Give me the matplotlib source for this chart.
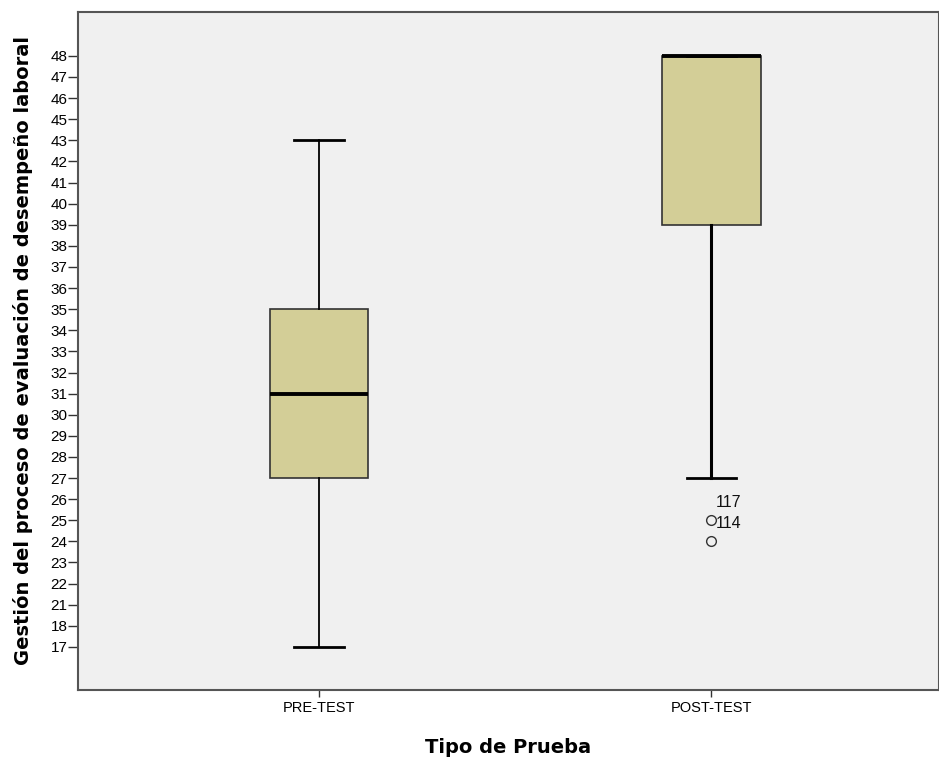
import matplotlib
matplotlib.use("Agg")
import matplotlib.pyplot as plt

plt.rcParams['font.family'] = ['Liberation Sans', 'DejaVu Sans']

# valores observados que aparecen en el eje (escala ordinal, como en SPSS)
tick_values = [17, 18, 21, 22, 23, 24, 25, 26, 27, 28, 29, 30, 31, 32, 33, 34,
               35, 36, 37, 38, 39, 40, 41, 42, 43, 45, 46, 47, 48]

groups = ["PRE-TEST", "POST-TEST"]
whis_low = [17, 27]
q1 = [27, 39]
median = [31, 48]
q3 = [35, 48]
whis_high = [43, 48]
outliers = [[], [25, 24]]
outlier_ids = [[], ["117", "114"]]


def pos(v):
    return tick_values.index(v)


stats = []
for i, g in enumerate(groups):
    stats.append({
        "label": g,
        "whislo": pos(whis_low[i]),
        "q1": pos(q1[i]),
        "med": pos(median[i]),
        "q3": pos(q3[i]),
        "whishi": pos(whis_high[i]),
        "fliers": [pos(v) for v in outliers[i]],
    })

fig = plt.figure(figsize=(9.39, 7.62), dpi=100)
ax = fig.add_axes([0.0831, 0.0945, 0.917, 0.8898])
ax.set_facecolor("#f0f0f0")

bp = ax.bxp(stats, positions=[1, 2], widths=0.252, patch_artist=True,
            boxprops=dict(facecolor="#d3ce97", edgecolor="#333333", linewidth=1.2),
            medianprops=dict(color="black", linewidth=2.8),
            whiskerprops=dict(color="black", linewidth=1.3),
            capprops=dict(color="black", linewidth=2),
            flierprops=dict(marker="o", markersize=7, markerfacecolor="none",
                            markeredgecolor="#333333", markeredgewidth=1),
            capwidths=0.125)
# el bigote del POST-TEST se ve más grueso en el original
bp["whiskers"][2].set_linewidth(2.2)
bp["whiskers"][3].set_linewidth(2.2)

for i, ids in enumerate(outlier_ids):
    for v, lab in zip(outliers[i], ids):
        ax.annotate(lab, (i + 1, pos(v)), xytext=(3, 13), textcoords="offset points",
                    fontsize=11.5, va="center", ha="left", color="#111111")

ax.set_xlim(0.386, 2.58)
ax.set_ylim(-2.04, 30.08)
ax.set_yticks(range(len(tick_values)))
ax.set_yticklabels([str(v) for v in tick_values])
ax.set_xticks([1, 2])
ax.set_xticklabels(groups)
ax.tick_params(axis="y", direction="out", length=7, width=1, colors="#333333",
               labelsize=11, labelcolor="black", pad=0.5)
ax.tick_params(axis="x", direction="out", length=5, width=1, colors="#333333",
               labelsize=10.5, labelcolor="black", pad=3)

for s in ax.spines.values():
    s.set_color("#555555")
    s.set_linewidth(1.5)

ax.set_ylabel("Gestión del proceso de evaluación de desempeño laboral",
              fontsize=14, fontweight="bold", family="DejaVu Sans")
ax.set_xlabel("Tipo de Prueba", fontsize=14, fontweight="bold", family="DejaVu Sans")
ax.yaxis.set_label_coords(-0.052, 0.5)
ax.xaxis.set_label_coords(0.5, -0.0708)

fig.savefig("out.png", dpi=100)
